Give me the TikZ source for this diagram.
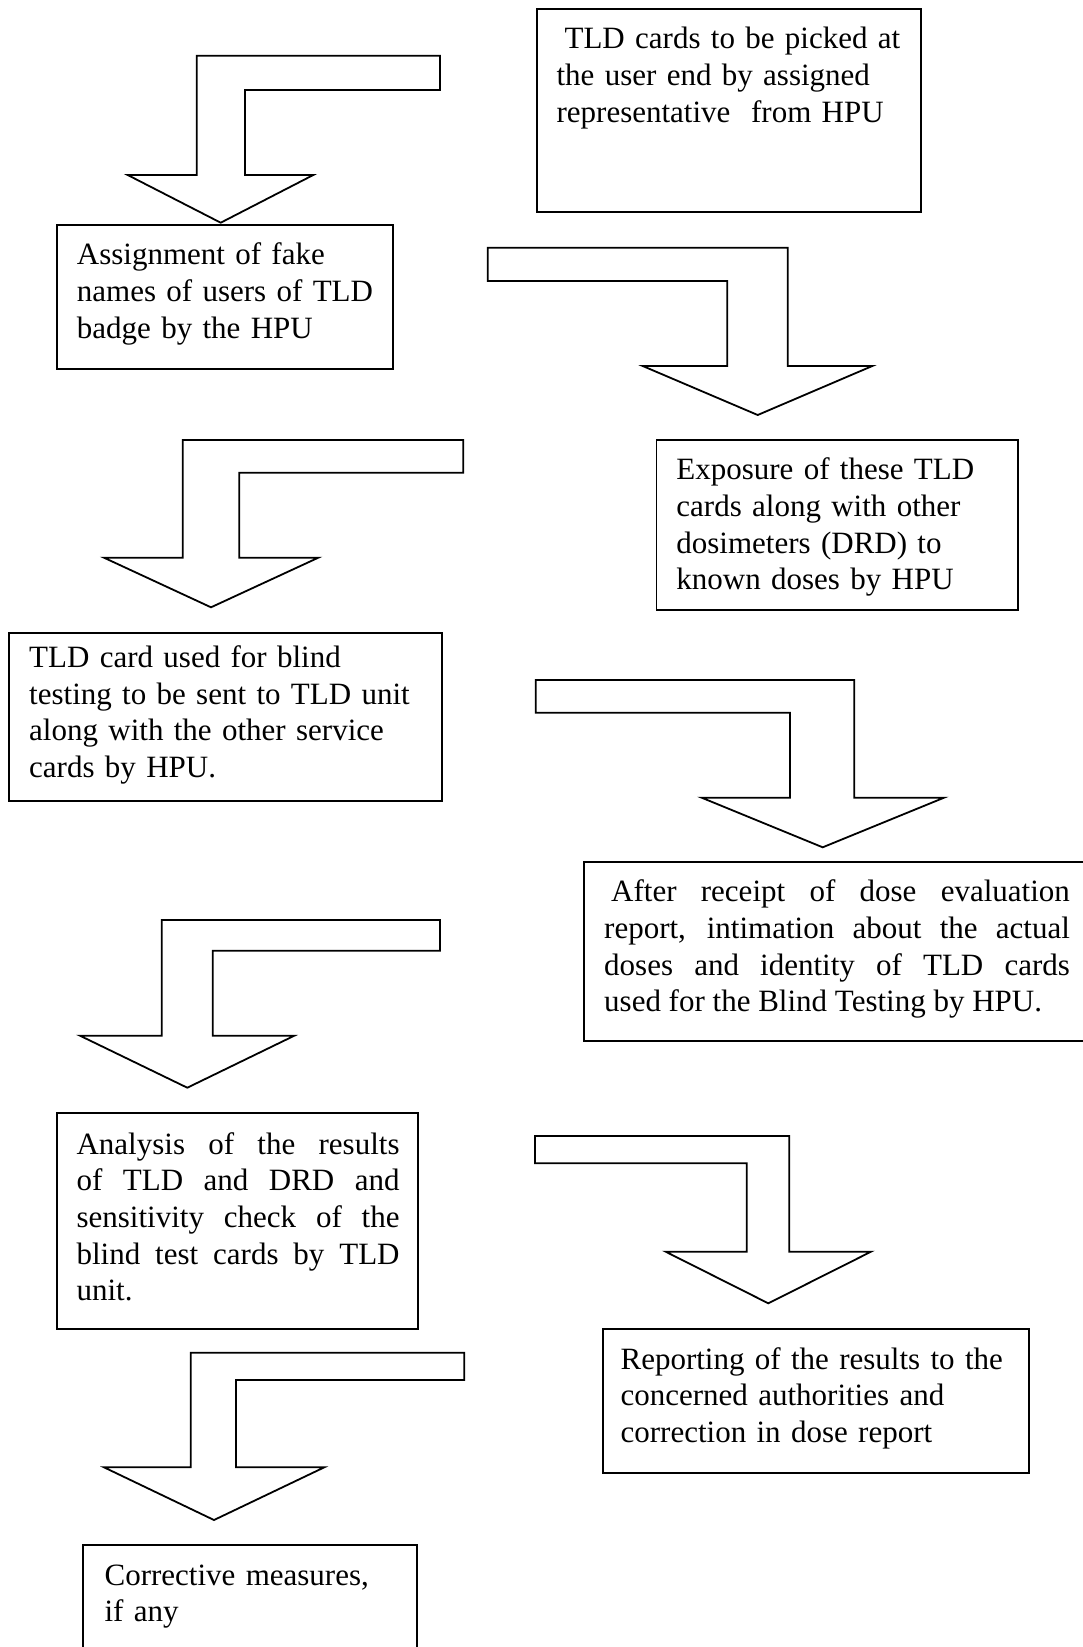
\documentclass[tikz,border=0pt]{standalone}
\usepackage{fontspec}
\setmainfont{Liberation Serif}
\tikzset{
    stage/.style={draw, line width=1.8pt, anchor=north west, inner xsep=18pt, inner ysep=0pt, text height=40pt, align=left, font=\fontsize{31}{36.6}\selectfont},
    bent/.style={draw, line width=1.8pt, line join=miter}
}
\begin{document}
\begin{tikzpicture}[x=1pt, y=-1pt]
                \useasboundingbox (0,0) rectangle (1083,1647);
                \clip (0,0) rectangle (1083,1647);

                \node[stage, text width=348.3pt, text depth=162.7pt] (pick) at (535.7,8) {\hspace{10pt}TLD cards to be picked at\\ \hspace{2pt}the user end by assigned\\ \hspace{2pt}representative\ \ from HPU};
                \node[stage, text width=300.3pt, text depth=103.7pt] (assign) at (56,224) {\hspace{2pt}Assignment of fake\\ \hspace{2pt}names of users of TLD\\ \hspace{2pt}badge by the HPU};
                \node[stage, text width=325.3pt, text depth=130pt] (expose) at (655.5,439) {\hspace{2pt}Exposure of these TLD\\ \hspace{2pt}cards along with other\\ \hspace{2pt}dosimeters (DRD) to\\ \hspace{2pt}known doses by HPU};
                \node[stage, text width=396.4pt, text height=35pt, text depth=133.3pt] (send) at (8.3,631.7) {\hspace{2pt}TLD card used for blind\\ \hspace{2pt}testing to be sent to TLD unit\\ \hspace{2pt}along with the other service\\ \hspace{2pt}cards by HPU.};
                \node[stage, align=justify, text width=467.7pt, text depth=139pt] (receipt) at (583.3,861) {\hspace{9pt}After receipt of dose evaluation\linebreak \hspace*{2pt}report, intimation about the actual\linebreak \hspace*{2pt}doses and identity of TLD cards\linebreak \hspace*{2pt}used for the Blind Testing by HPU.};
                \node[stage, align=justify, text width=325pt, text height=41pt, text depth=175pt] (analysis) at (55.7,1112.3) {\hspace{2pt}Analysis of the results\linebreak \hspace*{2pt}of TLD and DRD and\linebreak \hspace*{2pt}sensitivity check of the\linebreak \hspace*{2pt}blind test cards by TLD\linebreak \hspace*{2pt}unit.};
                \node[stage, text width=390.6pt, text depth=103.4pt] (report) at (601.7,1328.3) {Reporting of the results to the\\ concerned authorities and\\ correction in dose report};
                \node[stage, text width=298.3pt, text depth=100pt] (correct) at (81.7,1544.3) {\hspace{4pt}Corrective measures,\\ \hspace{4pt}if any};

                \draw[bent] (440,55.7) -- (196.7,55.7) -- (196.7,175) -- (127.7,175) -- (220.7,222.7) -- (313.3,175) -- (245,175) -- (245,90) -- (440,90) -- cycle;
                \draw[bent] (487.7,247.7) -- (787.7,247.7) -- (787.7,366) -- (872.3,366) -- (757.7,415) -- (642.7,366) -- (727.3,366) -- (727.3,281) -- (487.7,281) -- cycle;
                \draw[bent] (463.3,440) -- (182.7,440) -- (182.7,557.7) -- (104,557.7) -- (211,607.3) -- (318.3,557.7) -- (239.3,557.7) -- (239.3,472.7) -- (463.3,472.7) -- cycle;
                \draw[bent] (535.7,680) -- (854.3,680) -- (854.3,797.7) -- (944,797.7) -- (822.7,847.3) -- (701.7,797.7) -- (790,797.7) -- (790,712.7) -- (535.7,712.7) -- cycle;
                \draw[bent] (440,920) -- (161.7,920) -- (161.7,1035.7) -- (80,1035.7) -- (187.3,1087.7) -- (294.3,1035.7) -- (212.7,1035.7) -- (212.7,950.7) -- (440,950.7) -- cycle;
                \draw[bent] (535,1136) -- (789.3,1136) -- (789.3,1251.7) -- (871,1251.7) -- (768.3,1303.3) -- (665.7,1251.7) -- (746.7,1251.7) -- (746.7,1163.3) -- (535,1163.3) -- cycle;
                \draw[bent] (464.3,1352.7) -- (190.7,1352.7) -- (190.7,1467.3) -- (104,1467.3) -- (214,1520) -- (324.3,1467.3) -- (236,1467.3) -- (236,1380) -- (464.3,1380) -- cycle;
\end{tikzpicture}
\end{document}
